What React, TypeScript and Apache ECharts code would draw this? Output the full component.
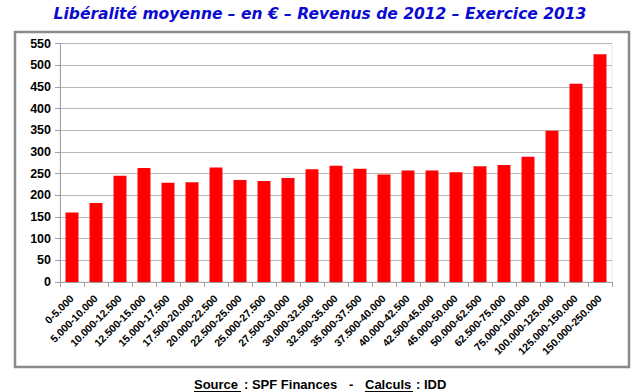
import React, { useEffect, useRef } from "react";
import * as echarts from "echarts";

const categories = [
  "0-5.000", "5.000-10.000", "10.000-12.500", "12.500-15.000", "15.000-17.500",
  "17.500-20.000", "20.000-22.500", "22.500-25.000", "25.000-27.500", "27.500-30.000",
  "30.000-32.500", "32.500-35.000", "35.000-37.500", "37.500-40.000", "40.000-42.500",
  "42.500-45.000", "45.000-50.000", "50.000-62.500", "62.500-75.000", "75.000-100.000",
  "100.000-125.000", "125.000-150.000", "150.000-250.000",
];
const values = [160, 182, 245, 263, 229, 230, 264, 235, 233, 240, 260, 268, 261, 248, 257, 257, 253, 267, 270, 289, 349, 457, 525];

const titleText = "Libéralité moyenne – en € – Revenus de 2012 – Exercice 2013";

export default function App() {
  const ref = useRef<HTMLDivElement>(null);
  useEffect(() => {
    const chart = echarts.init(ref.current!, null, { renderer: "svg" });
    const footFont = "bold 13px 'Liberation Sans'";
    chart.setOption({
      animation: false,
      backgroundColor: "#ffffff",
      title: {
        text: titleText,
        left: "center",
        top: 1,
        textStyle: {
          fontFamily: "DejaVu Sans",
          fontWeight: "bold",
          fontStyle: "italic",
          fontSize: 15.5,
          color: "#0a0ad2",
        },
      },
      grid: {
        left: 60, right: 28, top: 43.5, bottom: 110,
        show: true, borderColor: "#e6e6e6", borderWidth: 1,
      },
      xAxis: {
        type: "category",
        data: categories,
        axisLine: { lineStyle: { color: "#a0a0a0", width: 1 } },
        axisTick: { show: true, alignWithLabel: false, length: 5, lineStyle: { color: "#a0a0a0" } },
        axisLabel: {
          interval: 0, rotate: 45, margin: 15,
          fontFamily: "Liberation Sans", fontWeight: "bold", fontSize: 10.5, color: "#000",
        },
      },
      yAxis: {
        type: "value",
        min: 0, max: 550, interval: 50,
        axisLine: { show: true, lineStyle: { color: "#a0a0a0", width: 1 } },
        axisTick: { show: true, length: 5, lineStyle: { color: "#a0a0a0" } },
        splitLine: { lineStyle: { color: "#b8b8b8", width: 1 } },
        axisLabel: {
          margin: 9,
          fontFamily: "Liberation Sans", fontWeight: "bold", fontSize: 12.5, color: "#000",
        },
      },
      series: [
        {
          type: "bar",
          data: values,
          barCategoryGap: "46%",
          itemStyle: { color: "#ff0000" },
        },
      ],
      graphic: [
        {
          type: "rect", z: -1,
          shape: { x: 15, y: 32, width: 614, height: 335 },
          style: { fill: "none", stroke: "#8a8a8a", lineWidth: 2.5 },
        },
        {
          type: "text", x: 194, y: 384,
          style: { text: "Source", font: footFont, fill: "#000", textVerticalAlign: "middle" },
        },
        {
          type: "text", x: 244, y: 384,
          style: { text: ": SPF Finances", font: footFont, fill: "#000", textVerticalAlign: "middle" },
        },
        {
          type: "text", x: 349, y: 384,
          style: { text: "-", font: footFont, fill: "#000", textVerticalAlign: "middle" },
        },
        {
          type: "text", x: 365, y: 384,
          style: { text: "Calculs", font: footFont, fill: "#000", textVerticalAlign: "middle" },
        },
        {
          type: "text", x: 416, y: 384,
          style: { text: ": IDD", font: footFont, fill: "#000", textVerticalAlign: "middle" },
        },
        { type: "line", shape: { x1: 194, y1: 391.5, x2: 241, y2: 391.5 }, style: { stroke: "#000", lineWidth: 1 } },
        { type: "line", shape: { x1: 365, y1: 391.5, x2: 413, y2: 391.5 }, style: { stroke: "#000", lineWidth: 1 } },
      ],
    });
    return () => chart.dispose();
  }, []);
  return <div ref={ref} style={{ width: 640, height: 392, position: "absolute", left: 0, top: 0 }} />;
}
